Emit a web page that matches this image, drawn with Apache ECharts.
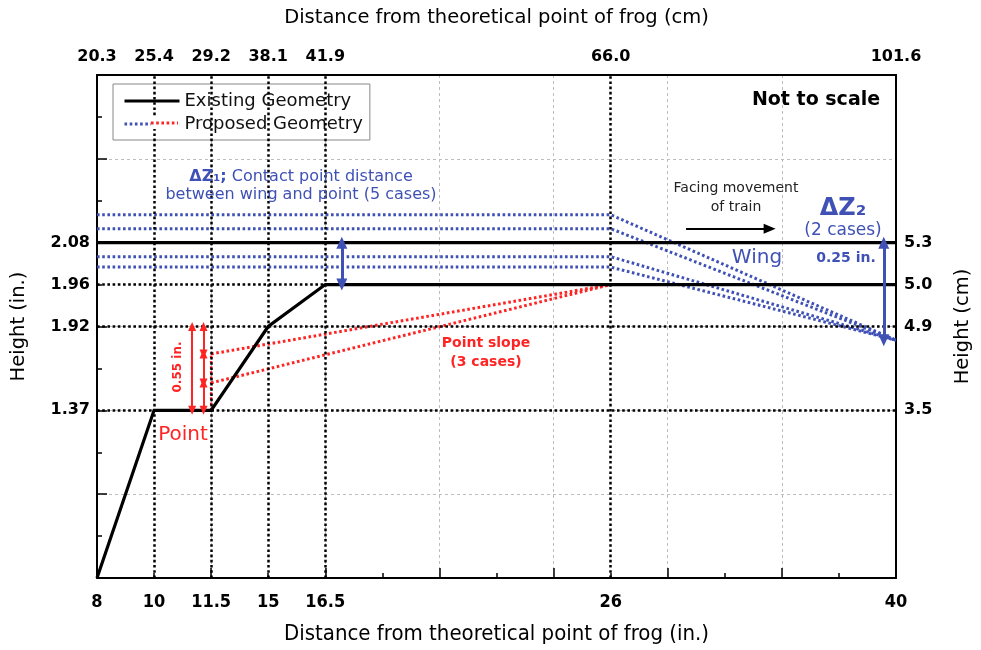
<!DOCTYPE html>
<html>
<head>
<meta charset="utf-8">
<script src="https://cdn.jsdelivr.net/npm/echarts@6/dist/echarts.min.js"></script>
<style>html,body{margin:0;padding:0;background:#fff}#main{width:981px;height:650px}</style>
</head>
<body>
<div id="main"></div>
<script>
// tick values (in.) and the grid slot each one sits on (figure is not to scale)
const xTickIn = [8, 10, 11.5, 15, 16.5, 26, 40];
const xTickSlot = [0, 1, 2, 3, 4, 9, 14];
const xTickCm = ['20.3', '25.4', '29.2', '38.1', '41.9', '66.0', '101.6'];
const yTickIn = [0, 1.37, 1.92, 1.96, 2.08];
const yTickSlot = [0, 4, 6, 7, 8];
const yLabelIn = ['', '1.37', '1.92', '1.96', '2.08'];
const yLabelCm = ['', '3.5', '4.9', '5.0', '5.3'];

// existing geometry
const existingPoint = [[8, 0], [10, 1.37], [11.5, 1.37], [15, 1.92], [16.5, 1.96], [40, 1.96]];
const existingWing = [[8, 2.08], [40, 2.08]];
// proposed wing: flat until 26 in. then sloping down to 40 in.
const wingHeights = [2.16, 2.12, 2.04, 2.01];
const wingBend = 26, wingEnd = 40, wingEndHeight = 1.83;
// proposed point slopes from 11.5 in. to 26 in.
const pointHeights = [1.74, 1.55];
const pointStart = 11.5, pointEnd = 26, pointEndHeight = 1.96;
// black dotted reference lines
const dotX = [10, 11.5, 15, 16.5, 26];
const dotY = [1.37, 1.92, 1.96];

const BLUE = '#3f51b5', RED = '#ff2424', FONT = 'DejaVu Sans';
const NARROW = "'DejaVu Sans Condensed', 'Liberation Sans Narrow', 'DejaVu Sans'";

function slot(v, vals, slots) {
  let i = 0;
  while (i < vals.length - 2 && v > vals[i + 1]) i++;
  return slots[i] + (v - vals[i]) * (slots[i + 1] - slots[i]) / (vals[i + 1] - vals[i]);
}
const px = v => slot(v, xTickIn, xTickSlot);
const py = v => slot(v, yTickIn, yTickSlot);
const pt = p => [px(p[0]), py(p[1])];

const labelX = list => v => { const k = xTickSlot.indexOf(v); return k < 0 ? '' : list[k]; };
const labelY = list => v => { const k = yTickSlot.indexOf(v); return k < 0 ? '' : list[k]; };

const dotted = (color, w) => ({ color: color, width: w, type: [2.6, 2.6], cap: 'butt' });
const vArrow = (x, y1, y2) => [{ coord: [px(x), py(y1)] }, { coord: [px(x), py(y2)] }];

const series = [];
// dotted reference grid
series.push({
  type: 'line', data: [], silent: true,
  markLine: {
    silent: true, symbol: ['none', 'none'], label: { show: false },
    lineStyle: dotted('#000', 2.5),
    data: dotX.map(v => ({ xAxis: px(v) })).concat(dotY.map(v => ({ yAxis: py(v) })))
  }
});
wingHeights.forEach(h => series.push({
  name: 'Proposed Geometry', type: 'line', symbol: 'none', silent: true,
  lineStyle: dotted(BLUE, 3), itemStyle: { color: BLUE },
  data: [pt([8, h]), pt([wingBend, h]), pt([wingEnd, wingEndHeight])]
}));
pointHeights.forEach(h => series.push({
  name: 'Proposed Geometry', type: 'line', symbol: 'none', silent: true,
  lineStyle: dotted(RED, 3), itemStyle: { color: RED },
  data: [pt([pointStart, h]), pt([pointEnd, pointEndHeight])]
}));
series.push({
  name: 'Proposed Geometry', type: 'line', symbol: 'none', silent: true,
  lineStyle: dotted(RED, 2.5), itemStyle: { color: RED },
  data: [pt([pointStart, 1.37]), pt([pointStart, Math.max(...pointHeights)])]
});
series.push({
  name: 'Existing Geometry', type: 'line', symbol: 'none', silent: true,
  lineStyle: { color: '#000', width: 3.2, join: 'miter' }, itemStyle: { color: '#000' },
  data: existingPoint.map(pt)
});
series.push({
  name: 'Existing Geometry', type: 'line', symbol: 'none', silent: true,
  lineStyle: { color: '#000', width: 3.2 }, itemStyle: { color: '#000' },
  data: existingWing.map(pt)
});
// arrows
const redSteps = [1.37].concat(pointHeights.slice().sort(), [1.92]);
series.push({
  type: 'line', data: [], silent: true,
  markLine: {
    silent: true, symbol: ['triangle', 'triangle'], symbolSize: [8, 9], label: { show: false },
    lineStyle: { color: RED, width: 2, type: 'solid' },
    data: [vArrow(11.0, 1.37, 1.92)].concat(redSteps.slice(1).map((h, i) => vArrow(11.3, redSteps[i], h)))
  }
});
series.push({
  type: 'line', data: [], silent: true,
  markLine: {
    silent: true, symbol: ['triangle', 'triangle'], symbolSize: [11, 12], label: { show: false },
    lineStyle: { color: BLUE, width: 3, type: 'solid' },
    data: [vArrow(17.05, 1.96, 2.08), vArrow(39.4, 2.08, wingEndHeight)]
  }
});
series.push({
  type: 'line', data: [], silent: true,
  markLine: {
    silent: true, symbol: ['none', 'triangle'], symbolSize: [10, 12], label: { show: false },
    lineStyle: { color: '#000', width: 2, type: 'solid' },
    data: [[{ coord: [px(29.7), py(2.12)] }, { coord: [px(33.8), py(2.12)] }]]
  }
});

const txt = (x, y, text, o) => ({
  type: 'text', x: x, y: y, rotation: o.rot || 0, z: 50,
  style: Object.assign({ text: text, align: 'center', verticalAlign: 'middle', fontFamily: FONT, fill: '#000' }, o.s)
});

const axisFont = { color: '#000', fontWeight: 'bold', fontSize: 16, fontFamily: FONT };
const nameFont = { color: '#000', fontSize: 19.5, fontFamily: FONT };

const option = {
  animation: false,
  grid: { left: 97, right: 82, top: 75, bottom: 70 },
  legend: {
    left: 113, top: 84, orient: 'vertical', padding: [8, 7, 7, 10], itemGap: 5,
    itemWidth: 55, itemHeight: 20, backgroundColor: '#fff', borderColor: '#888', borderWidth: 1,
    lineStyle: { width: 3 }, itemStyle: { opacity: 0, borderWidth: 0 },
    textStyle: { fontSize: 18, fontFamily: FONT, color: '#111' },
    data: ['Existing Geometry', 'Proposed Geometry'], selectedMode: false
  },
  xAxis: [
    {
      type: 'value', position: 'bottom', min: 0, max: 14, interval: 1,
      axisLine: { onZero: false, lineStyle: { color: '#000', width: 2 } },
      axisTick: { inside: true, length: 5, lineStyle: { color: '#000', width: 1.5 } },
      axisLabel: { formatter: labelX(xTickIn.map(String)), margin: 15, ...axisFont, fontSize: 18, fontFamily: NARROW },
      splitLine: { show: false },
      name: 'Distance from theoretical point of frog (in.)', nameLocation: 'middle', nameGap: 45,
      nameTextStyle: { ...nameFont, fontSize: 22, fontFamily: NARROW }
    },
    {
      type: 'value', position: 'bottom', min: 0, max: 14, interval: 2,
      axisLine: { show: false }, axisLabel: { show: false },
      axisTick: { inside: true, length: 10, lineStyle: { color: '#000', width: 1.5 } },
      splitLine: { show: true, lineStyle: { color: '#bdbdbd', width: 1, type: [3, 3] } }
    },
    {
      type: 'value', position: 'top', min: 0, max: 14, interval: 1,
      axisLine: { onZero: false, lineStyle: { color: '#000', width: 2 } },
      axisTick: { show: false }, splitLine: { show: false },
      axisLabel: { formatter: labelX(xTickCm), margin: 10, ...axisFont },
      name: 'Distance from theoretical point of frog (cm)', nameLocation: 'middle', nameGap: 47,
      nameTextStyle: nameFont
    }
  ],
  yAxis: [
    {
      type: 'value', position: 'left', min: 0, max: 12, interval: 1,
      axisLine: { onZero: false, lineStyle: { color: '#000', width: 2 } },
      axisTick: { inside: true, length: 5, lineStyle: { color: '#000', width: 1.5 } },
      axisLabel: { formatter: labelY(yLabelIn), margin: 7, ...axisFont },
      splitLine: { show: false },
      name: 'Height (in.)', nameLocation: 'middle', nameGap: 68,
      nameTextStyle: nameFont
    },
    {
      type: 'value', position: 'left', min: 0, max: 12, interval: 2,
      axisLine: { show: false }, axisLabel: { show: false },
      axisTick: { inside: true, length: 10, lineStyle: { color: '#000', width: 1.5 } },
      splitLine: { show: true, lineStyle: { color: '#bdbdbd', width: 1, type: [3, 3] } }
    },
    {
      type: 'value', position: 'right', min: 0, max: 12, interval: 1,
      axisLine: { onZero: false, lineStyle: { color: '#000', width: 2 } },
      axisTick: { show: false }, splitLine: { show: false },
      axisLabel: { formatter: labelY(yLabelCm), margin: 8, ...axisFont },
      name: 'Height (cm)', nameLocation: 'middle', nameGap: 57,
      nameTextStyle: nameFont
    }
  ],
  graphic: [
    // red half of the proposed-geometry legend icon
    { type: 'rect', z: 100, shape: { x: 151, y: 117, width: 28, height: 12 }, style: { fill: '#fff' } },
    { type: 'line', z: 101, shape: { x1: 151, y1: 123, x2: 178, y2: 123 }, style: { stroke: RED, lineWidth: 3, lineDash: [2.6, 2.6] } },
    txt(816, 100, 'Not to scale', { s: { fontSize: 19, fontWeight: 'bold' } }),
    txt(301, 177, '{b|ΔZ₁;} Contact point distance', { s: { fontSize: 16, fill: BLUE, rich: { b: { fontSize: 16, fontWeight: 'bold', fill: BLUE, fontFamily: FONT } } } }),
    txt(301, 195, 'between wing and point (5 cases)', { s: { fontSize: 16, fill: BLUE } }),
    txt(736, 188, 'Facing movement', { s: { fontSize: 14, fill: '#222' } }),
    txt(736, 207, 'of train', { s: { fontSize: 14, fill: '#222' } }),
    txt(843, 209, 'ΔZ₂', { s: { fontSize: 24, fontWeight: 'bold', fill: BLUE } }),
    txt(843, 231, '(2 cases)', { s: { fontSize: 17, fill: BLUE } }),
    txt(757, 258, 'Wing', { s: { fontSize: 20, fill: BLUE } }),
    txt(846, 258, '0.25 in.', { s: { fontSize: 14, fontWeight: 'bold', fill: BLUE } }),
    txt(486, 343, 'Point slope', { s: { fontSize: 14, fontWeight: 'bold', fill: RED } }),
    txt(486, 362, '(3 cases)', { s: { fontSize: 14, fontWeight: 'bold', fill: RED } }),
    txt(183, 435, 'Point', { s: { fontSize: 20, fill: RED } }),
    txt(178, 367, '0.55 in.', { rot: Math.PI / 2, s: { fontSize: 12, fontWeight: 'bold', fill: RED } })
  ],
  series: series
};

const chart = echarts.init(document.getElementById('main'));
chart.setOption(option);
</script>
</body>
</html>
